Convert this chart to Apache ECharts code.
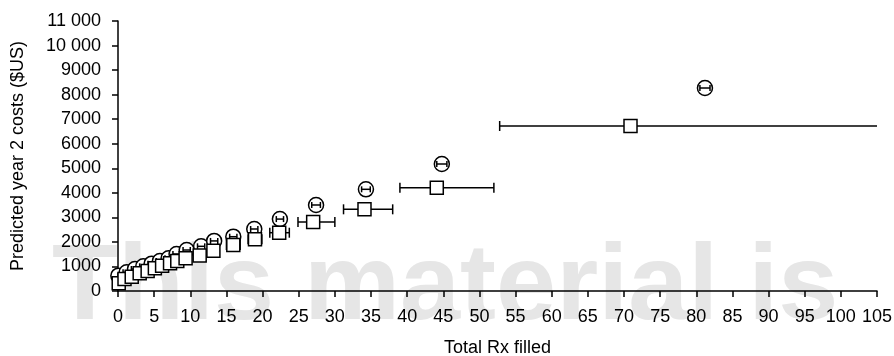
<!DOCTYPE html>
<html>
<head>
<meta charset="utf-8">
<script src="https://cdn.jsdelivr.net/npm/echarts@6/dist/echarts.min.js"></script>
<style>
  html, body { margin: 0; padding: 0; background: #fff; }
  #costChart { width: 894px; height: 356px; }
</style>
</head>
<body>
<div id="costChart"></div>
<script>
// circles
var circX = [0.05, 1.2, 2.35, 3.5, 4.65, 5.8, 7.0, 8.1, 9.5, 11.5, 13.3, 15.95, 18.85, 22.4, 27.4, 34.3, 44.8, 81.2];
var circY = [623, 762, 896, 1006, 1112, 1222, 1332, 1507, 1670, 1820, 2040, 2212, 2526, 2930, 3504, 4143, 5174, 8270];
var circLo = [0, 0.7, 1.85, 3.0, 4.15, 5.3, 6.5, 7.6, 9.0, 11.0, 12.8, 15.45, 18.35, 21.9, 26.8, 33.7, 44.1, 80.5];
var circHi = [0.5, 1.7, 2.85, 4.0, 5.15, 6.3, 7.5, 8.6, 10.0, 12.0, 13.8, 16.45, 19.35, 22.9, 28.0, 34.9, 45.5, 81.9];
// squares
var sqX = [0.1, 0.9, 1.9, 3.0, 4.1, 5.1, 6.1, 7.2, 8.2, 9.35, 11.3, 13.2, 15.95, 18.95, 22.3, 27.0, 34.1, 44.1, 70.9];
var sqY = [313, 489, 583, 721, 815, 923, 1031, 1127, 1222, 1332, 1450, 1642, 1874, 2106, 2375, 2811, 3328, 4210, 6722];
var sqLo = [0, 0.5, 1.5, 2.6, 3.6, 4.6, 5.6, 6.7, 7.7, 8.8, 10.6, 12.4, 15.0, 18.0, 21.0, 24.9, 31.2, 39.0, 52.8];
var sqHi = [0.3, 1.3, 2.3, 3.4, 4.6, 5.6, 6.6, 7.7, 8.7, 9.9, 12.0, 14.0, 16.9, 19.9, 23.7, 30.0, 38.0, 52.0, 112];

var xTicks = { min: 0, max: 105, interval: 5 };
var yTicks = { min: 0, max: 11000, interval: 1000 };

var font = "Liberation Sans";

function rows(xs, ys, lo, hi) {
  var out = [];
  for (var i = 0; i < xs.length; i++) out.push([xs[i], ys[i], lo[i], hi[i]]);
  return out;
}

// marker + horizontal error bar, drawn per point
function makeRender(kind) {
  return function (params, api) {
    var c = api.coord([api.value(0), api.value(1)]);
    var l = api.coord([api.value(2), api.value(1)]);
    var h = api.coord([api.value(3), api.value(1)]);
    var right = params.coordSys.x + params.coordSys.width;
    var clipped = h[0] > right;
    if (clipped) h[0] = right;
    var line = { stroke: "#000", lineWidth: 1.5 };
    var cap = kind === "sq" ? 5 : 3;
    var bar = [
      { type: "line", shape: { x1: l[0], y1: c[1], x2: h[0], y2: c[1] }, style: line },
      { type: "line", shape: { x1: l[0], y1: c[1] - cap, x2: l[0], y2: c[1] + cap }, style: line }
    ];
    if (!clipped) {
      bar.push({ type: "line", shape: { x1: h[0], y1: c[1] - cap, x2: h[0], y2: c[1] + cap }, style: line });
    }
    var mark;
    if (kind === "sq") {
      mark = { type: "rect", shape: { x: c[0] - 6.5, y: c[1] - 6.5, width: 13, height: 13 },
        style: { fill: "#fff", stroke: "#000", lineWidth: 1.5 } };
      return { type: "group", children: bar.concat([mark]) };
    }
    mark = { type: "circle", shape: { cx: c[0], cy: c[1], r: 7.5 },
      style: { fill: "#fff", stroke: "#000", lineWidth: 1.5 } };
    return { type: "group", children: [mark].concat(bar) };
  };
}

var chart = echarts.init(document.getElementById("costChart"));
var option = {
  animation: false,
  backgroundColor: "#fff",
  textStyle: { fontFamily: font },
  grid: { left: 118, right: 17, top: 21, bottom: 65, containLabel: false, outerBoundsMode: "none" },
  graphic: [
    {
      type: "text",
      z: -10,
      left: 52,
      top: 235,
      style: {
        text: "This material is",
        font: "bold 108px " + font,
        fill: "#e6e6e6"
      }
    }
  ],
  xAxis: {
    type: "value",
    min: xTicks.min,
    max: xTicks.max,
    interval: xTicks.interval,
    name: "Total Rx filled",
    nameLocation: "middle",
    nameGap: 48,
    nameTextStyle: { color: "#000", fontSize: 18, fontFamily: font },
    splitLine: { show: false },
    axisLine: { onZero: false, lineStyle: { color: "#000", width: 1.5 } },
    axisTick: { length: 6, lineStyle: { color: "#000", width: 1.5 } },
    axisLabel: { color: "#000", fontSize: 18, margin: 17, fontFamily: font }
  },
  yAxis: {
    type: "value",
    min: yTicks.min,
    max: yTicks.max,
    interval: yTicks.interval,
    name: "Predicted year 2 costs ($US)",
    nameLocation: "middle",
    nameGap: 91,
    nameTextStyle: { color: "#000", fontSize: 18, fontFamily: font },
    splitLine: { show: false },
    axisLine: { show: true, lineStyle: { color: "#000", width: 1.5 } },
    axisTick: { show: true, length: 6, lineStyle: { color: "#000", width: 1.5 } },
    axisLabel: {
      color: "#000",
      fontSize: 18,
      margin: 17,
      fontFamily: font,
      formatter: function (v) {
        return v >= 10000 ? Math.floor(v / 1000) + " " + String(v % 1000).padStart(3, "0") : String(v);
      }
    }
  },
  series: [
    {
      type: "custom",
      name: "circles",
      z: 3,
      renderItem: makeRender("circ"),
      encode: { x: [0, 2, 3], y: 1 },
      data: rows(circX, circY, circLo, circHi)
    },
    {
      type: "custom",
      name: "squares",
      z: 4,
      renderItem: makeRender("sq"),
      encode: { x: [0, 2], y: 1 },
      data: rows(sqX, sqY, sqLo, sqHi)
    }
  ]
};
chart.setOption(option, true);
</script>
</body>
</html>
